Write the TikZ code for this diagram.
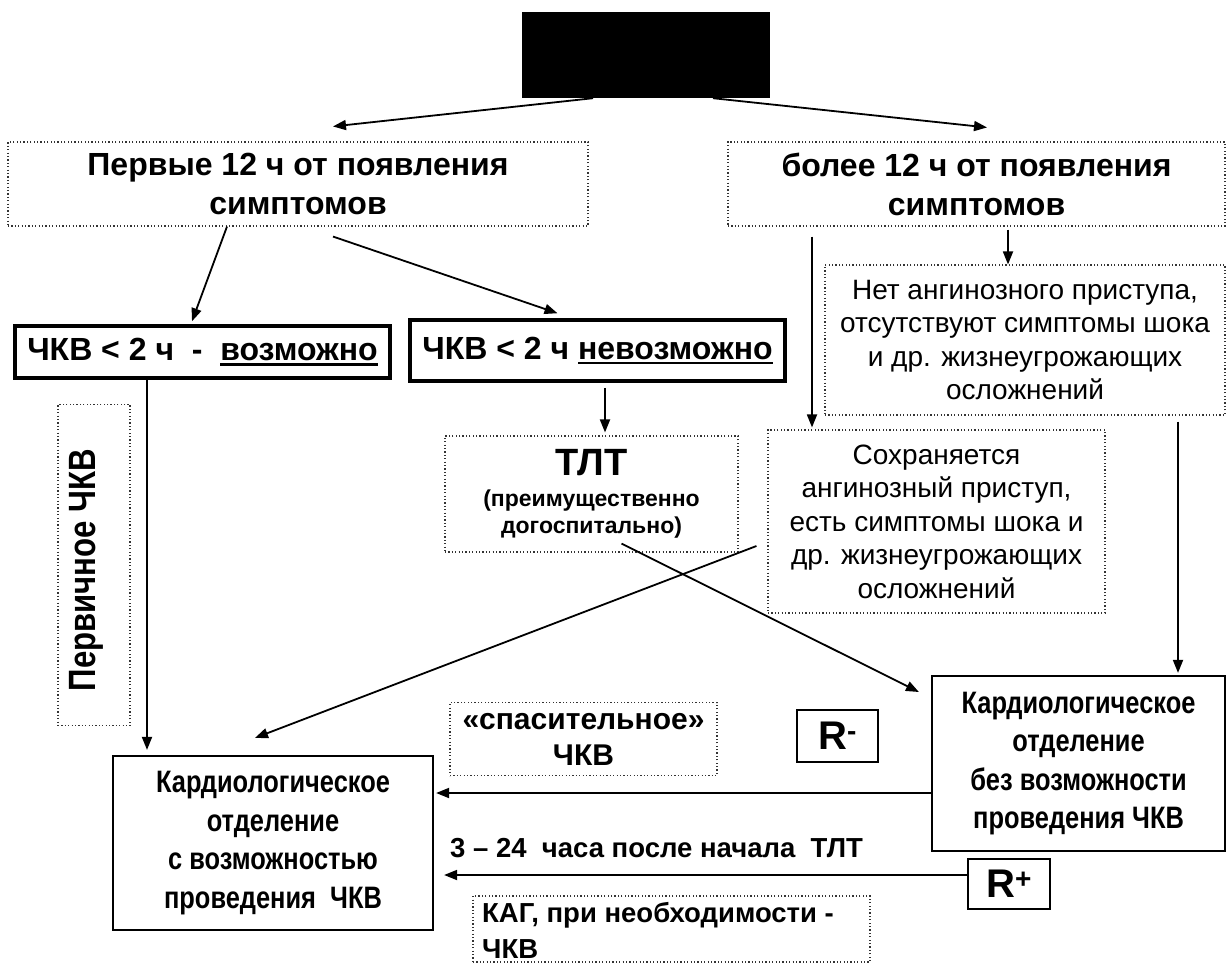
\documentclass[tikz,border=0pt]{standalone}
\usepackage{fontspec}
\setmainfont{Liberation Sans}
\newfontfamily\narrowsans[FakeStretch=0.82]{Liberation Sans}
\usetikzlibrary{arrows.meta}
\newsavebox\ulbox
\newcommand\thul[1]{\sbox\ulbox{#1}\rlap{\rule[-5pt]{\wd\ulbox}{2.4pt}}\usebox\ulbox}
\begin{document}
\begin{tikzpicture}[x=1pt,y=-1pt,
  dotbox/.style={draw=black!80, line width=1.1pt, dash pattern=on 1.2pt off 2.2pt, inner sep=0pt},
  thickbox/.style={draw, line width=3.5pt, inner sep=0pt},
  solidbox/.style={draw, line width=2.2pt, inner sep=0pt},
  arr/.style={-{Triangle[length=13pt,width=10pt]}, line width=1.8pt},
  head/.style={font=\fontsize{32}{39}\selectfont\bfseries, align=center},
  cond/.style={font=\fontsize{32}{36}\selectfont\bfseries, align=center},
  plain/.style={font=\fontsize{28}{33.5}\selectfont, align=center},
  dept/.style={font=\narrowsans\fontsize{31}{38.5}\selectfont\bfseries, align=center},
  lab/.style={font=\fontsize{27.5}{36}\selectfont\bfseries, inner sep=0pt},
  rbox/.style={solidbox, font=\fontsize{40}{40}\selectfont\bfseries}
]
\useasboundingbox (0,0) rectangle (1228,963);
\fill[white] (0,0) rectangle (1228,963);

% title (redacted)
\node[fill=black, minimum width=248, minimum height=86, inner sep=0pt] (T) at (646,55) {};

% first level
\node[dotbox, head, minimum width=580, minimum height=84] (A) at (298,184)
  {Первые 12 ч от появления\\симптомов};
\node[dotbox, head, minimum width=497, minimum height=84] (B) at (976.5,184)
  {более 12 ч от появления\\симптомов};

% PCI possible / impossible
\node[thickbox, cond, minimum width=375, minimum height=52] (C) at (202.5,352)
  {ЧКВ < 2 ч \ - \ \thul{возможно}};
\node[thickbox, cond, minimum width=375, minimum height=61] (D) at (597.5,350.5)
  {ЧКВ < 2 ч \thul{невозможно}};

% primary PCI label
\node[dotbox, minimum width=72, minimum height=321] (Pbox) at (94,565) {};
\node[rotate=90, font=\narrowsans\fontsize{38}{40}\selectfont\bfseries, inner sep=0pt] (Ptext) at (86,570) {Первичное ЧКВ};

% TLT
\node[dotbox, minimum width=293, minimum height=116, align=center,
      font=\fontsize{23}{27}\selectfont\bfseries] (TLT) at (591.5,494)
  {{\fontsize{38}{38}\selectfont ТЛТ}\\[4pt](преимущественно\\догоспитально)};

% right branch
\node[dotbox, plain, minimum width=400, minimum height=150] (E) at (1025,340)
  {Нет ангинозного приступа,\\отсутствуют симптомы шока\\и др. жизнеугрожающих\\осложнений};
\node[dotbox, plain, minimum width=337, minimum height=183] (F) at (936.5,521.5)
  {Сохраняется\\ангинозный приступ,\\есть симптомы шока и\\др. жизнеугрожающих\\осложнений};

% departments
\node[solidbox, dept, minimum width=293, minimum height=175] (G) at (1078.5,763.5)
  {Кардиологическое\\отделение\\без возможности\\проведения ЧКВ};
\node[solidbox, dept, minimum width=320, minimum height=174] (H) at (273,843)
  {Кардиологическое\\отделение\\с возможностью\\проведения\ \ ЧКВ};

% rescue PCI label
\node[dotbox, minimum width=267, minimum height=73, font=\fontsize{30}{36}\selectfont\bfseries, align=center] (S) at (583.5,739)
  {«спасительное»\\ЧКВ};

% R boxes
\node[rbox, minimum width=81, minimum height=52] (Rm) at (837.5,736) {R\textsuperscript{-}};
\node[rbox, minimum width=82, minimum height=50] (Rp) at (1009,884) {R\textsuperscript{+}};

% bottom labels
\node[lab, anchor=west] (L3) at (450,848) {3 – 24\ \ часа после начала\ \ ТЛТ};
\node[dotbox, minimum width=397, minimum height=66] (Kbox) at (671.5,929) {};
\node[lab, anchor=west, align=left] (K) at (482,930) {КАГ, при необходимости -\\ЧКВ};

% connectors
\draw[arr] ([xshift=-53]T.south) -- ([xshift=35,yshift=15]A.north);
\draw[arr] ([xshift=67]T.south) -- ([xshift=10.5,yshift=14]B.north);
\draw[arr] ([xshift=-71]A.south) -- ([xshift=-10.5,yshift=3]C.north);
\draw[arr] ([xshift=35,yshift=-10]A.south) -- ([xshift=-40,yshift=5]D.north);
\draw[arr] ([xshift=-55.5]C.south) -- ([xshift=-126,yshift=5]H.north);
\draw[arr] ([xshift=7.5,yshift=-5]D.south) -- ([xshift=13.5,yshift=3]TLT.north);
\draw[arr] ([xshift=31.5,yshift=-3]B.south) -- ([xshift=-17]E.north);
\draw[arr] ([xshift=-164.5,yshift=-10]B.south) -- ([xshift=-124.5,yshift=2]F.north);
\draw[arr] ([xshift=153,yshift=-6]E.south) -- ([xshift=99.5,yshift=2]G.north);
\draw[arr] ([xshift=-11,yshift=-24.5]F.west) -- ([xshift=-18,yshift=17]H.north);
\draw[arr] ([xshift=30,yshift=9]TLT.south) -- ([xshift=-12,yshift=71.5]G.west);
\draw[arr] ([yshift=-29.5]G.west) -- ([xshift=2,yshift=50]H.east);
\draw[arr] ([yshift=9]Rp.west) -- ([xshift=10,yshift=-32]H.east);
\end{tikzpicture}
\end{document}
